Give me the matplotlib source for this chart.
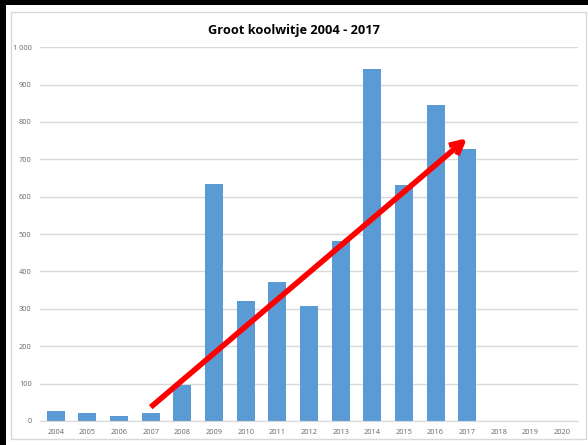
import matplotlib.pyplot as plt
from matplotlib.patches import Rectangle
from matplotlib.ticker import FuncFormatter

# Yearly counts
jaren = list(range(2004, 2021))
aantallen = [27, 22, 12, 20, 95, 635, 322, 373, 308, 481, 941, 632, 845, 727, None, None, None]
titel = "Groot koolwitje 2004 - 2017"

# Trend arrow (start, end) in data coordinates
pijl_start = (2007.0, 37)
pijl_eind = (2017.0, 757)

plt.rcParams['font.family'] = ['Open Sans', 'DejaVu Sans']

fig = plt.figure(figsize=(5.88, 4.45), dpi=100)
fig.patch.set_facecolor('white')

# black edge at top and left, then the light chart frame
fig.add_artist(Rectangle((0, 0.988), 1, 0.012, transform=fig.transFigure,
                         facecolor='black', edgecolor='none'))
fig.add_artist(Rectangle((0, 0), 0.010, 1, transform=fig.transFigure,
                         facecolor='black', edgecolor='none'))
fig.add_artist(Rectangle((0.019, 0.013), 0.978, 0.960, transform=fig.transFigure,
                         facecolor='none', edgecolor='#d9d9d9', linewidth=1))

ax = fig.add_axes([0.068, 0.054, 0.915, 0.84])

xs = [j for j, a in zip(jaren, aantallen) if a is not None]
ys = [a for a in aantallen if a is not None]
ax.bar(xs, ys, width=0.57, color='#5b9bd5', zorder=2)

ax.set_xlim(2003.5, 2020.5)
ax.set_ylim(0, 1000)
ax.set_xticks(jaren)
ax.set_xticklabels([str(j) for j in jaren])
ax.set_yticks(range(0, 1001, 100))
ax.yaxis.set_major_formatter(FuncFormatter(lambda v, p: f"{int(v):,}".replace(",", " ")))
ax.tick_params(axis='both', length=0, labelsize=5.3, labelcolor='#666666', pad=6)

ax.grid(axis='y', color='#d9d9d9', linewidth=1, zorder=0)
for s in ['top', 'right', 'left']:
    ax.spines[s].set_visible(False)
ax.spines['bottom'].set_color('#d9d9d9')

ax.annotate('', xy=pijl_eind, xytext=pijl_start,
            arrowprops=dict(arrowstyle='->,head_length=0.9,head_width=0.45',
                            color='#ff0000', lw=4, shrinkA=0, shrinkB=0,
                            capstyle='butt'),
            zorder=5)

fig.text(0.5, 0.932, titel, ha='center', va='center', fontsize=9.2,
         fontweight='bold', color='#000000')

fig.savefig('out.png', dpi=100)
